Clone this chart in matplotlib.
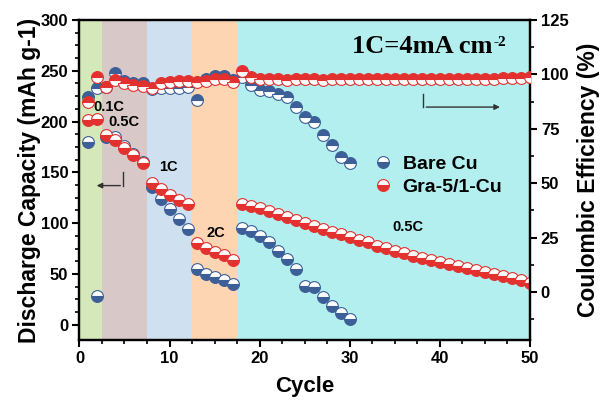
import matplotlib
matplotlib.use("Agg")
import matplotlib.pyplot as plt
import numpy as np

# ---------------- data ----------------
cycles_bare = list(range(1, 31))
bare_cap = [180, 28, 185, 185, 176, 168, 160,
            136, 124, 113.5, 103.7, 94.6,
            54.7, 50.4, 47.5, 44.2, 40.6,
            95.6, 92, 87, 81.5, 72.6, 65, 55, 38, 36.7, 27, 18.6, 11.5, 5.6]
bare_ce = [89.8, 93.6, 94, 100.8, 97, 96, 96,
           93.5, 93.6, 93.6, 93.8, 94,
           88.2, 98, 99.3, 99.3, 97.4,
           99, 95, 93, 92.3, 91, 89.8, 85.2, 80.6, 78.3, 72.2, 67.6, 62.2, 59.1]

cycles_gra = list(range(1, 51))
gra_cap = [202, 203, 187, 182, 174, 167.5, 159,
           139.7, 133.8, 128, 123.3, 119,
           80.9, 76, 72, 68.4, 63.8,
           119, 117, 115, 112, 109, 106, 103, 100, 97, 94, 91, 89, 86, 83, 81,
           78, 76, 73, 71, 68, 66, 64, 62, 60, 58, 56, 54, 52, 50, 48, 46, 44, 41]
gra_ce = [87.5, 98.7, 94.1, 97.4, 95.9, 95.1, 94.7,
          93.6, 95.9, 96.7, 97.1, 97.1,
          96.7, 97.1, 97.7, 98.1, 96.7,
          101.5, 99, 98, 97.8, 97.8, 97.6, 97.8, 97.7, 97.8, 97.6, 97.8, 97.7, 97.8,
          97.7, 97.8, 97.7, 97.8, 97.9, 97.8, 97.9, 97.8, 97.9, 97.8, 98, 97.9,
          98, 97.9, 98, 98.1, 98.2, 98.3, 98.5, 98.6]

bands = [(0, 2.5, "#d4e8b9"), (2.5, 7.5, "#d9c8c8"), (7.5, 12.5, "#cfe0f0"),
         (12.5, 17.5, "#fdd5b3"), (17.5, 50, "#b3efee")]
rate_labels = [("0.1C", 1.5, 214), ("0.5C", 3.2, 200), ("1C", 8.9, 155.5),
               ("2C", 14.1, 90), ("0.5C", 34.7, 96.5)]

blue = "#3c5f97"
red = "#e2312f"

plt.rcParams['font.family'] = ['Liberation Sans', 'DejaVu Sans']
plt.rcParams['font.weight'] = 'bold'

fig = plt.figure(figsize=(6.02, 4.0), dpi=100)
ax = fig.add_axes([0.132, 0.15, 0.748, 0.80])
ax2 = ax.twinx()

for x0, x1, c in bands:
    ax.axvspan(x0, x1, color=c, lw=0, zorder=0)

ms = 8.5
ax.plot(cycles_bare, bare_cap, 'o', ms=ms, fillstyle='bottom', markerfacecolor=blue,
        markerfacecoloralt='white', markeredgecolor=blue, mew=0.8, zorder=3, label='Bare Cu')
ax.plot(cycles_gra, gra_cap, 'o', ms=ms, fillstyle='bottom', markerfacecolor=red,
        markerfacecoloralt='white', markeredgecolor=red, mew=0.8, zorder=4, label='Gra-5/1-Cu')
ax2.plot(cycles_bare, bare_ce, 'o', ms=ms, fillstyle='top', markerfacecolor=blue,
         markerfacecoloralt='white', markeredgecolor=blue, mew=0.8, zorder=3)
ax2.plot(cycles_gra, gra_ce, 'o', ms=ms, fillstyle='top', markerfacecolor=red,
         markerfacecoloralt='white', markeredgecolor=red, mew=0.8, zorder=4)

ax.set_xlim(0, 50)
ax.set_ylim(-15, 300)
ax2.set_ylim(-22, 125)
ax.set_xticks([0, 10, 20, 30, 40, 50])
ax.set_xticks(np.arange(0, 50.1, 2.5), minor=True)
ax.set_yticks([0, 50, 100, 150, 200, 250, 300])
ax.set_yticks(np.arange(0, 300.1, 12.5), minor=True)
ax2.set_yticks([0, 25, 50, 75, 100, 125])
ax2.set_yticks(np.arange(-12.5, 125.1, 12.5), minor=True)

for a in (ax, ax2):
    a.tick_params(which='major', direction='out', length=5, width=1.5, labelsize=12, pad=3)
    a.tick_params(which='minor', direction='out', length=3, width=1.2)
    for s in a.spines.values():
        s.set_linewidth(1.6)

ax.set_xlabel("Cycle", fontsize=16, fontweight='bold', labelpad=7)
ax.set_ylabel("Discharge Capacity (mAh g-1)", fontsize=16.5, fontweight='bold', labelpad=0)
ax2.set_ylabel("Coulombic Efficiency (%)", fontsize=16.5, fontweight='bold', labelpad=6)

for txt, x, y in rate_labels:
    ax.text(x, y, txt, fontsize=10.5, fontweight='bold', ha='left', va='center', zorder=6)

t1 = ax.text(0.605, 0.918, "1C=4mA cm", transform=ax.transAxes, fontsize=19,
             family='Liberation Serif', fontweight='bold', ha='left', va='center')
fig.canvas.draw()
bb = t1.get_window_extent()
ax.text(bb.x1 + 1, bb.y1 - 8, "-2", transform=None, fontsize=11,
        family='Liberation Serif', fontweight='bold', ha='left', va='center')

# arrows
ax.plot([4.85, 4.85], [150, 137], color='#333333', lw=1)
ax.annotate("", xy=(1.6, 137), xytext=(4.85, 137),
            arrowprops=dict(arrowstyle='-|>', color='#333333', lw=1, mutation_scale=8))
ax2.plot([38.2, 38.2], [91, 85], color='#333333', lw=1)
ax2.annotate("", xy=(47, 85), xytext=(38.2, 85),
             arrowprops=dict(arrowstyle='-|>', color='#333333', lw=1, mutation_scale=8))

leg = ax.legend(loc='center left', bbox_to_anchor=(0.653, 0.514), frameon=False,
                fontsize=14, handletextpad=0.5, borderpad=0.0, labelspacing=0.3,
                handlelength=1.0, borderaxespad=0)
for t in leg.get_texts():
    t.set_fontweight('bold')

fig.savefig("out.png", dpi=100)
